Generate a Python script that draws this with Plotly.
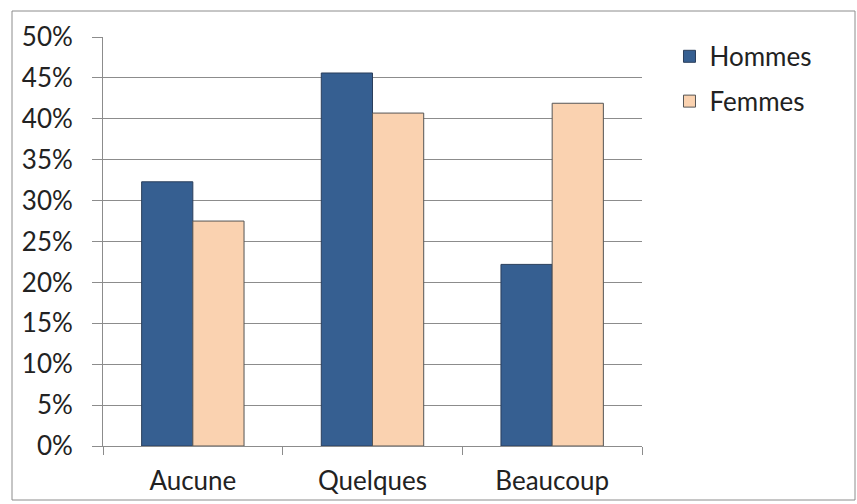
import plotly.graph_objects as go

categories = ["Aucune", "Quelques", "Beaucoup"]
hommes = [32.3, 45.6, 22.2]
femmes = [27.5, 40.7, 41.9]
y_ticks = [0, 5, 10, 15, 20, 25, 30, 35, 40, 45, 50]
y_tick_labels = [f"{v}%" for v in y_ticks]

W, H = 857, 504
L, R, T, B = 103, 215, 37, 58
pw, ph = W - L - R, H - T - B

def px_x(x):
    return (x - L) / pw

def px_y(y):
    return (H - B - y) / ph

fig = go.Figure()
fig.add_trace(go.Bar(
    x=categories, y=hommes, name="Hommes", legendgroup="h",
    marker=dict(color="#365F91", line=dict(color="#2b3f5c", width=1)),
))
fig.add_trace(go.Bar(
    x=categories, y=femmes, name="Femmes", legendgroup="f",
    marker=dict(color="#FAD2B0", line=dict(color="#555555", width=1)),
))

fig.update_layout(
    width=W, height=H,
    margin=dict(l=L, r=R, t=T, b=B, autoexpand=False),
    paper_bgcolor="white", plot_bgcolor="white",
    barmode="group", bargap=0.43, bargroupgap=0,
    font=dict(family="Lato, sans-serif", size=26, color="#222222"),
    showlegend=True,
    legend=dict(
        x=1.051, y=1.01, xanchor="left", yanchor="top",
        font=dict(size=26, color="#222222"),
        bgcolor="rgba(0,0,0,0)", traceorder="grouped", tracegroupgap=8,
    ),
    shapes=[dict(
        type="rect", xref="paper", yref="paper",
        x0=px_x(12), x1=px_x(855), y0=px_y(500), y1=px_y(11),
        line=dict(color="#8c8c8c", width=1), fillcolor="rgba(0,0,0,0)",
        layer="below",
    )],
)
fig.update_yaxes(
    range=[0, 50], tickvals=y_ticks, ticktext=y_tick_labels,
    showgrid=True, gridcolor="#8c8c8c", gridwidth=1,
    showline=True, linecolor="#8c8c8c", linewidth=1,
    ticks="outside", ticklen=10, tickcolor="#8c8c8c",
    zeroline=False, tickfont=dict(size=26), ticklabelstandoff=14,
    automargin=False,
)
fig.update_xaxes(
    showline=True, linecolor="#8c8c8c", linewidth=1,
    ticks="outside", ticklen=8, tickcolor="#8c8c8c",
    tickson="boundaries", showgrid=False, tickfont=dict(size=26),
    ticklabelstandoff=12, automargin=False,
)

fig.write_html("out.html")
